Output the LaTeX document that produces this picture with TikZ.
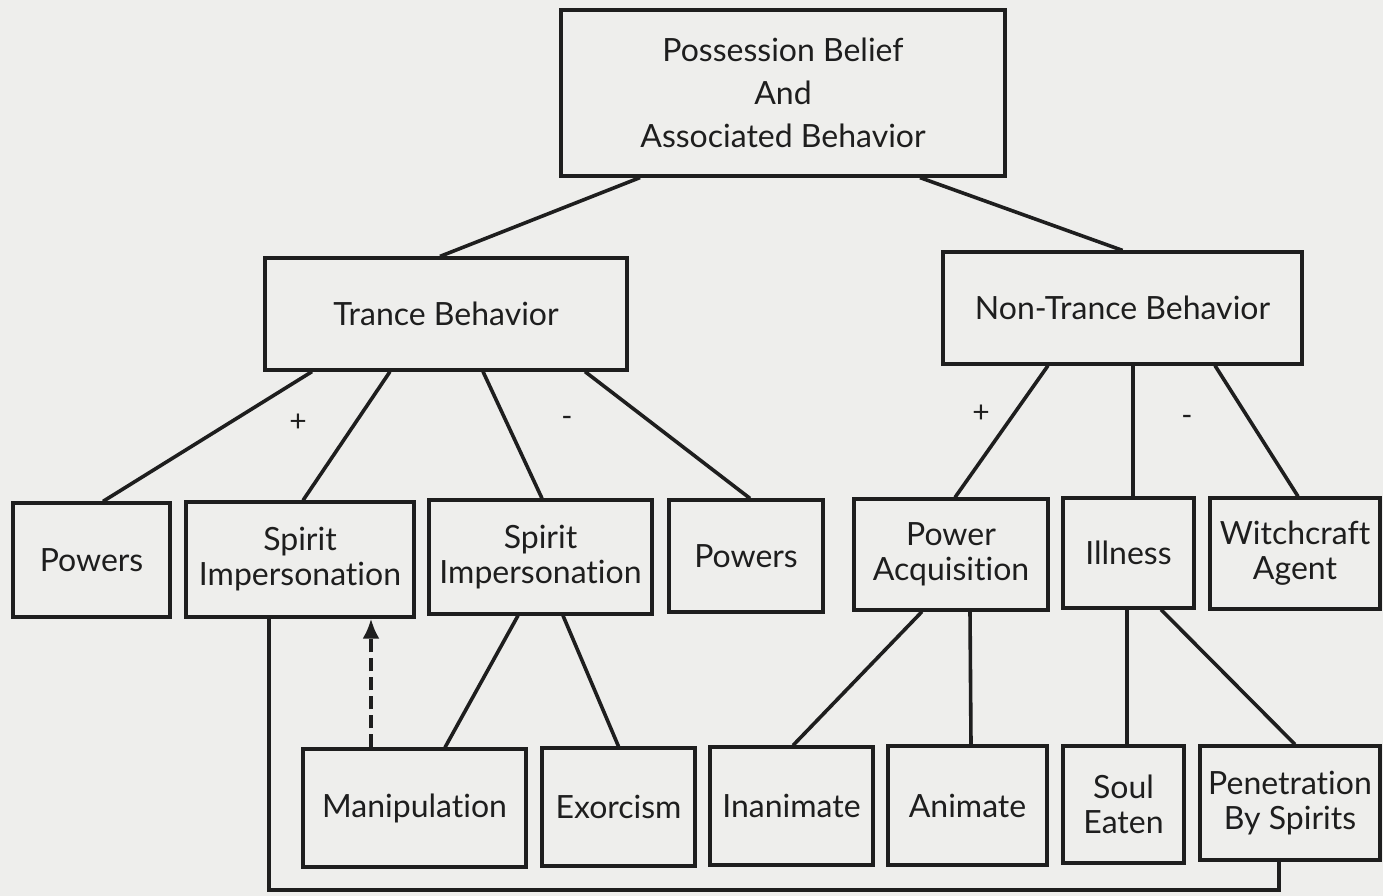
\documentclass[tikz,border=0pt]{standalone}
\usepackage{fontspec}
\setmainfont{Lato}[Ligatures=NoCommon]
\usepackage{tikz}
\usetikzlibrary{arrows.meta}
\definecolor{paper}{RGB}{238,238,236}
\definecolor{ink}{RGB}{30,30,30}

\begin{document}
\begin{tikzpicture}[x=1pt, y=-1pt, color=ink,
  box/.style={draw, rectangle, line width=3.2pt, align=center, inner sep=1pt, font=\fontsize{32}{35}\selectfont},
  link/.style={line width=3.6pt},
  sign/.style={font=\fontsize{30}{30}\selectfont, inner sep=0pt}]
\useasboundingbox[fill=paper] (0,0) rectangle (1383,896);

% Top level
\node[box, minimum width=444pt, minimum height=166pt, font=\fontsize{32}{43}\selectfont] (root) at (783,93) {Possession Belief\\And\\Associated Behavior};

\node[box, minimum width=362pt, minimum height=112pt] (trance) at (446,314) {Trance Behavior};
\node[box, minimum width=359pt, minimum height=112pt] (nontrance) at (1122.5,308) {Non-Trance Behavior};

% Second row
\node[box, minimum width=157pt, minimum height=114pt] (powersA) at (91.5,560) {Powers};
\node[box, minimum width=228pt, minimum height=115pt] (spiritA) at (300,559.5) {Spirit\\Impersonation};
\node[box, minimum width=223pt, minimum height=114pt] (spiritB) at (540.5,557) {Spirit\\Impersonation};
\node[box, minimum width=154pt, minimum height=112pt] (powersB) at (746,556) {Powers};
\node[box, minimum width=194pt, minimum height=111pt] (acquis) at (951,554.5) {Power\\Acquisition};
\node[box, minimum width=131pt, minimum height=110pt] (illness) at (1128.5,553) {Illness};
\node[box, minimum width=170pt, minimum height=111pt] (witch) at (1295,553.5) {Witchcraft\\Agent};

% Third row
\node[box, minimum width=223pt, minimum height=118pt] (manip) at (414.5,808) {Manipulation};
\node[box, minimum width=153pt, minimum height=118pt] (exorc) at (618.5,807) {Exorcism};
\node[box, minimum width=163pt, minimum height=118pt] (inanim) at (791.5,806) {Inanimate};
\node[box, minimum width=159pt, minimum height=119pt] (anim) at (967.5,805.5) {Animate};
\node[box, minimum width=121pt, minimum height=117pt] (soul) at (1123.5,804.5) {Soul\\Eaten};
\node[box, minimum width=180pt, minimum height=114pt] (penetr) at (1290,803) {Penetration\\By Spirits};

% Links
\draw[link] ([xshift=-143pt]root.south) -- ([xshift=-6pt]trance.north);
\draw[link] ([xshift=137pt]root.south) -- (nontrance.north);

\draw[link] ([xshift=-134pt]trance.south) -- ([xshift=11.5pt]powersA.north);
\draw[link] ([xshift=-56pt]trance.south) -- ([xshift=3pt]spiritA.north);
\draw[link] ([xshift=37pt]trance.south) -- ([xshift=1.5pt]spiritB.north);
\draw[link] ([xshift=139pt]trance.south) -- ([xshift=4pt]powersB.north);

\draw[link] ([xshift=-74.5pt]nontrance.south) -- ([xshift=4pt]acquis.north);
\draw[link] ([xshift=10.5pt]nontrance.south) -- ([xshift=4.5pt]illness.north);
\draw[link] ([xshift=92.5pt]nontrance.south) -- ([xshift=3pt]witch.north);

\draw[link] ([xshift=-22.5pt]spiritB.south) -- ([xshift=30.5pt]manip.north);
\draw[link] ([xshift=22.5pt]spiritB.south) -- (exorc.north);
\draw[link] ([xshift=-29pt]acquis.south) -- ([xshift=1.5pt]inanim.north);
\draw[link] ([xshift=19pt]acquis.south) -- ([xshift=3.5pt]anim.north);
\draw[link] ([xshift=-1.5pt]illness.south) -- ([xshift=3.5pt]soul.north);
\draw[link] ([xshift=32.5pt]illness.south) -- ([xshift=5pt]penetr.north);

% Signs
\node[sign] (plusL) at (298,423) {+};
\node[sign] (minusL) at (567,421) {-};
\node[sign] (plusR) at (981,414) {+};
\node[sign] (minusR) at (1187,420) {-};

% Feedback
\draw[link, dash pattern=on 13pt off 6pt, -{Latex[length=20pt, width=17pt]}] ([xshift=-43.5pt]manip.north) -- ([xshift=71pt]spiritA.south);

\coordinate (spout) at ([xshift=-31pt]spiritA.south);
\coordinate (penout) at ([xshift=-11pt]penetr.south);
\coordinate (loop) at (0,890);
\draw[link] (spout) -- (spout |- loop) -- (penout |- loop) -- (penout);

\end{tikzpicture}
\end{document}
